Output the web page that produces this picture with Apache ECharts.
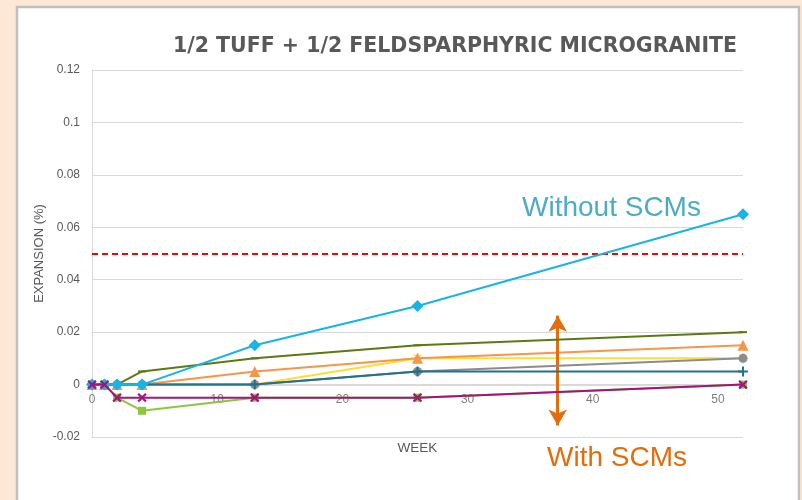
<!DOCTYPE html>
<html>
<head>
<meta charset="utf-8">
<script src="https://cdn.jsdelivr.net/npm/echarts@6/dist/echarts.min.js"></script>
<style>html,body{margin:0;padding:0;background:#fde8d8;}#c{width:802px;height:500px;}</style>
</head>
<body>
<div id="c"></div>
<script>
const weeks = [0, 1, 2, 4, 13, 26, 52];
const withoutSCMs = [0, 0, 0, 0, 0.015, 0.030, 0.065];
const mixDarkGreen = [0, 0, 0, 0.005, 0.010, 0.015, 0.020];
const mixOrange = [0, 0, 0, 0, 0.005, 0.010, 0.015];
const mixYellow = [0, 0, 0, 0, 0, 0.010, 0.010];
const mixGrey = [0, 0, 0, 0, 0, 0.005, 0.010];
const mixTeal = [0, 0, 0, 0, 0, 0.005, 0.005];
const mixLightGreen = [0, 0, -0.005, -0.010, -0.005, -0.005, 0];
const mixPurple = [0, 0, -0.005, -0.005, -0.005, -0.005, 0];
const limitValue = 0.05;
const arrowWeek = 37.2;
const arrowTop = 0.0263;
const arrowBottom = -0.0156;
const titleText = '1/2 TUFF + 1/2 FELDSPARPHYRIC MICROGRANITE';
const xName = 'WEEK';
const yName = 'EXPANSION (%)';

const pair = arr => weeks.map((w, i) => [w, arr[i]]);
const PLUS = 'path://M4,0H6V4H10V6H6V10H4V6H0V4H4Z';
const STAR = 'path://M4.3,0H5.7V3.3L8.0,1.0L9.0,2.0L6.7,4.3H10V5.7H6.7L9.0,8.0L8.0,9.0L5.7,6.7V10H4.3V6.7L2.0,9.0L1.0,8.0L3.3,5.7H0V4.3H3.3L1.0,2.0L2.0,1.0L4.3,3.3Z';

function line(name, arr, color, symbol, size, z, extra) {
  return Object.assign({
    name: name, type: 'line', data: pair(arr), z: z,
    symbol: symbol, symbolSize: size, showSymbol: true,
    lineStyle: { color: color, width: 2 },
    itemStyle: { color: color, borderWidth: 0 },
    emphasis: { disabled: true },
    animation: false
  }, extra || {});
}

const chart = echarts.init(document.getElementById('c'), null, { renderer: 'canvas' });
chart.setOption({
  backgroundColor: '#fde8d8',
  animation: false,
  graphic: [
    { type: 'rect', z: -10, silent: true,
      shape: { x: 17, y: 7, width: 782, height: 500 },
      style: { fill: '#ffffff', stroke: '#bfbfbf', lineWidth: 2.5 } },
    { type: 'text', z: 10, silent: true,
      style: { x: 522, y: 208, text: 'Without SCMs', fill: '#4bacc6',
        font: '28px "Liberation Sans", Arial, sans-serif', textVerticalAlign: 'middle' } },
    { type: 'text', z: 10, silent: true,
      style: { x: 547, y: 458, text: 'With SCMs', fill: '#e46c0a',
        font: '28px "Liberation Sans", Arial, sans-serif', textVerticalAlign: 'middle' } }
  ],
  title: {
    text: titleText, left: 450, top: 31, textAlign: 'center',
    textStyle: { fontFamily: 'DejaVu Sans', fontWeight: 'bold', fontSize: 20.5, color: '#595959' }
  },
  grid: { left: 92, top: 70, right: 59, bottom: 63, containLabel: false, outerBoundsMode: 'none' },
  xAxis: {
    type: 'value', min: 0, max: 52, interval: 10,
    offset: -52,
    name: xName, nameLocation: 'middle', nameGap: 56, nameMoveOverlap: false,
    nameTextStyle: { color: '#595959', fontSize: 13.5, fontFamily: 'Liberation Sans' },
    axisLine: { show: true, onZero: false, lineStyle: { color: '#d9d9d9', width: 1 } },
    axisTick: { show: false },
    splitLine: { show: false },
    axisLabel: { color: '#7f7f7f', fontSize: 12, fontFamily: 'Liberation Sans', margin: 9, showMaxLabel: false }
  },
  yAxis: {
    type: 'value', min: -0.02, max: 0.12, interval: 0.02,
    name: yName, nameLocation: 'middle', nameGap: 46, nameMoveOverlap: false,
    nameTextStyle: { color: '#595959', fontSize: 13, fontFamily: 'Liberation Sans' },
    axisLine: { show: true, onZero: false, lineStyle: { color: '#d9d9d9', width: 1 } },
    axisTick: { show: false },
    splitLine: { show: true, lineStyle: { color: '#d9d9d9', width: 1 } },
    axisLabel: { color: '#595959', fontSize: 12, fontFamily: 'Liberation Sans', margin: 12 }
  },
  series: [
    line('Light green', mixLightGreen, '#8cc63e', 'rect', 8, 2, {
      markLine: {
        silent: true, symbol: 'none', animation: false,
        label: { show: false },
        lineStyle: { color: '#ff0000', type: [6, 4], width: 2 },
        data: [{ yAxis: limitValue }]
      }
    }),
    line('Yellow', mixYellow, '#ffdd33', STAR, 10, 3),
    line('Orange', mixOrange, '#f79646', 'triangle', 11, 4),
    line('Grey', mixGrey, '#8c8c8c', 'circle', 9, 5),
    line('Dark green', mixDarkGreen, '#5a7a12', 'rect', [8, 2], 6),
    line('Teal', mixTeal, '#22718d', PLUS, 10, 7),
    line('Without SCMs', withoutSCMs, '#1ab3e6', 'diamond', 12, 8),
    line('Purple', mixPurple, '#a3147f', PLUS, 11, 9, {
      symbolRotate: 45,
      markLine: {
        silent: true, animation: false,
        symbol: ['arrow', 'arrow'], symbolSize: [14, 16],
        label: { show: false },
        lineStyle: { color: '#e46c0a', type: 'solid', width: 3 },
        data: [[{ coord: [arrowWeek, arrowTop] }, { coord: [arrowWeek, arrowBottom] }]]
      }
    })
  ]
});
</script>
</body>
</html>
